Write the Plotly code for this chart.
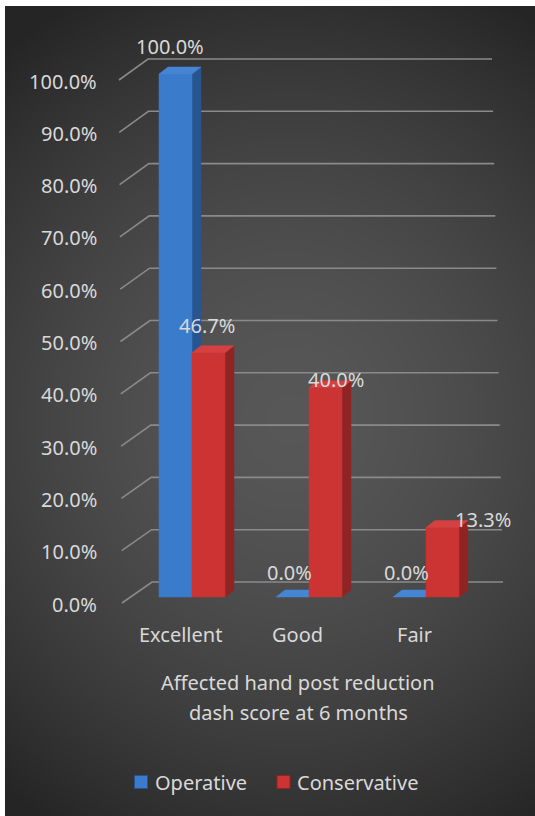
import base64
import struct
import zlib

import numpy as np
import plotly.graph_objects as go

# ---- data -------------------------------------------------------------
categories = ["Excellent", "Good", "Fair"]
operative = [100.0, 0.0, 0.0]
conservative = [46.7, 40.0, 13.3]
series_names = ["Operative", "Conservative"]
y_ticks = [0, 10, 20, 30, 40, 50, 60, 70, 80, 90, 100]
x_title_lines = ["Affected hand post reduction", "dash score at 6 months"]

# ---- page geometry (pixels) ------------------------------------------
W, H = 535, 816
X0_PX = 192.0        # x pixel of the first category centre
CAT_PX = 117.0       # pixels between categories
Y0_PX = 597.0        # y pixel of 0 % on the bar front plane
PX_PER_PCT = 5.23    # pixels per percentage point

x_range = [-X0_PX / CAT_PX, (W - X0_PX) / CAT_PX]
y_range = [(Y0_PX - H) / PX_PER_PCT, Y0_PX / PX_PER_PCT]


def xu(px):
    """pixel x -> x-axis units"""
    return (px - X0_PX) / CAT_PX


def yu(py):
    """pixel y -> y-axis units"""
    return (Y0_PX - py) / PX_PER_PCT


HALF_W = 16.5 / CAT_PX          # half of one bar's width
DEPTH_X = 9.0 / CAT_PX          # oblique depth of a bar, horizontal part
DEPTH_Y = 7.0 / PX_PER_PCT      # oblique depth of a bar, vertical part
FRONT_DY = -6.0 / PX_PER_PCT    # floor front edge relative to bar plane
BACK_DY = 15.0 / PX_PER_PCT     # back wall relative to bar plane

TEXT = "#d9d9d9"
FONT = "Noto Sans"
FSIZE = 20

# ---- radial background ------------------------------------------------
def png_bytes(rgb):
    h, w, _ = rgb.shape
    raw = b"".join(b"\x00" + rgb[r].tobytes() for r in range(h))

    def chunk(tag, data):
        return (struct.pack(">I", len(data)) + tag + data
                + struct.pack(">I", zlib.crc32(tag + data) & 0xFFFFFFFF))

    return (b"\x89PNG\r\n\x1a\n"
            + chunk(b"IHDR", struct.pack(">IIBBBBB", w, h, 8, 2, 0, 0, 0))
            + chunk(b"IDAT", zlib.compress(raw, 9))
            + chunk(b"IEND", b""))


PANEL_X, PANEL_Y = 5, 6
pw, ph = W - PANEL_X, H - PANEL_Y
gw, gh = pw // 2, ph // 2
gx, gy = np.meshgrid(np.linspace(0, pw, gw), np.linspace(0, ph, gh))
r = np.sqrt(((gx - 285) / 450.0) ** 2 + ((gy - 414) / 480.0) ** 2)
shade = 87 - (87 - 37) * np.clip(r, 0, 1) ** 1.6
bg = np.repeat(shade[:, :, None], 3, axis=2).round().astype(np.uint8)
bg_src = "data:image/png;base64," + base64.b64encode(png_bytes(bg)).decode()

fig = go.Figure()

# ---- gridlines: side wall diagonal + back wall horizontal -------------
gx_line, gy_line = [], []
for v in y_ticks:
    front_px = 122.0 - 0.03 * v
    back_px = 152.0 - 0.04 * v
    right_px = 503.0 - 0.11 * v
    gx_line += [xu(front_px), xu(back_px), xu(right_px), None]
    gy_line += [v + FRONT_DY, v + BACK_DY, v + BACK_DY, None]
fig.add_trace(go.Scatter(x=gx_line, y=gy_line, mode="lines",
                         line=dict(color="#8a8a8a", width=1.6),
                         hoverinfo="skip", showlegend=False))

# ---- 3-D looking columns ---------------------------------------------
palette = {
    "Operative": dict(front="#3a7bcc", side="#28558f", top="#4585d4"),
    "Conservative": dict(front="#cc3333", side="#8f2424", top="#d64040"),
}


def poly(xs, ys, color):
    fig.add_trace(go.Scatter(x=xs + [xs[0]], y=ys + [ys[0]], mode="lines",
                             fill="toself", fillcolor=color,
                             line=dict(width=0.5, color=color),
                             hoverinfo="skip", showlegend=False))


for i in range(len(categories)):
    for name, values, offset in ((series_names[0], operative, -HALF_W),
                                 (series_names[1], conservative, HALF_W)):
        v = values[i]
        c = i + offset
        l, rgt = c - HALF_W, c + HALF_W
        col = palette[name]
        # side face
        poly([rgt, rgt + DEPTH_X, rgt + DEPTH_X, rgt],
             [0, DEPTH_Y, v + DEPTH_Y, v], col["side"])
        # front face
        if v > 0:
            poly([l, rgt, rgt, l], [0, 0, v, v], col["front"])
        # top face
        poly([l, rgt, rgt + DEPTH_X, l + DEPTH_X],
             [v, v, v + DEPTH_Y, v + DEPTH_Y], col["top"])

# ---- data labels -----------------------------------------------------
label_shift = {  # (series, category index) -> (xshift, yshift) in px
    (0, 0): (-6, 28), (0, 1): (-3, 25), (0, 2): (-3, 25),
    (1, 0): (-2, 27), (1, 1): (10, 8), (1, 2): (40, 8),
}
annotations = []
for s, (values, offset) in enumerate(((operative, -HALF_W),
                                      (conservative, HALF_W))):
    for i, v in enumerate(values):
        dx, dy = label_shift[(s, i)]
        annotations.append(dict(x=i + offset, y=v, xref="x", yref="y",
                                text=f"{v:.1f}%", showarrow=False,
                                xshift=dx, yshift=dy,
                                font=dict(family=FONT, size=FSIZE, color=TEXT)))

# ---- value axis labels -----------------------------------------------
for v in y_ticks:
    annotations.append(dict(x=99.0 / W, xref="paper", y=v + FRONT_DY,
                            yref="y", text=f"{v:.1f}%", showarrow=False,
                            xanchor="right", yanchor="middle", yshift=-1,
                            font=dict(family=FONT, size=FSIZE, color=TEXT)))

# ---- category labels and axis title ----------------------------------
for i, cat in enumerate(categories):
    annotations.append(dict(x=i, y=0, xref="x", yref="y", text=cat,
                            showarrow=False, xshift=-12, yshift=-37,
                            font=dict(family=FONT, size=FSIZE, color=TEXT)))
for k, line in enumerate(x_title_lines):
    annotations.append(dict(x=1, y=0, xref="x", yref="y", text=line,
                            showarrow=False, xshift=-11, yshift=-85 - 30 * k,
                            font=dict(family=FONT, size=FSIZE, color=TEXT)))

# ---- legend: square swatch followed by the series name ----------------
legend_pos = {"Operative": (141.0, 153.0), "Conservative": (283.5, 295.0)}
LEGEND_Y = 782.0
for name in series_names:
    sx, tx = legend_pos[name]
    fig.add_trace(go.Scatter(x=[xu(sx)], y=[yu(LEGEND_Y)], mode="markers",
                             name=name, showlegend=False, hoverinfo="skip",
                             marker=dict(symbol="square", size=13,
                                         color=palette[name]["front"],
                                         line=dict(width=1,
                                                   color=palette[name]["side"]))))
    annotations.append(dict(x=xu(tx), y=yu(LEGEND_Y), xref="x", yref="y",
                            text=name, showarrow=False, xanchor="left",
                            yanchor="middle",
                            font=dict(family=FONT, size=FSIZE, color=TEXT)))

fig.update_layout(
    width=W, height=H,
    margin=dict(l=0, r=0, t=0, b=0),
    paper_bgcolor="white",
    plot_bgcolor="rgba(0,0,0,0)",
    images=[dict(source=bg_src, xref="paper", yref="paper",
                 x=PANEL_X / W, y=1 - PANEL_Y / H,
                 sizex=pw / W, sizey=ph / H,
                 xanchor="left", yanchor="top",
                 sizing="stretch", layer="below")],
    xaxis=dict(range=x_range, visible=False, fixedrange=True),
    yaxis=dict(range=y_range, visible=False, fixedrange=True),
    annotations=annotations,
    showlegend=False,
)

fig.write_html("out.html")
